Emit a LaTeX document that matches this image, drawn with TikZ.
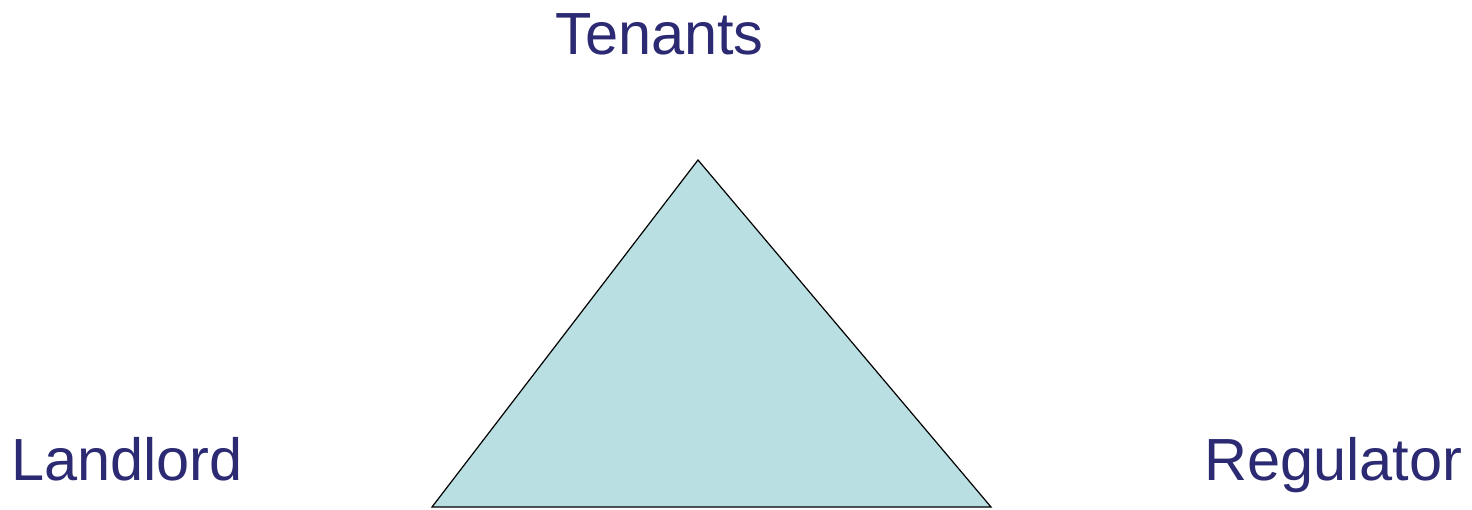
\documentclass[tikz,border=0pt]{standalone}
\usepackage{fontspec}
\setmainfont{Liberation Sans}
\definecolor{navy}{HTML}{2B2A72}
\definecolor{tri}{HTML}{BADFE2}
\begin{document}
\begin{tikzpicture}[x=1pt,y=-1pt,
  lbl/.style={text=navy,font=\fontsize{59.5}{70}\selectfont,inner sep=0pt,anchor=base west}]
\useasboundingbox (0,0) rectangle (1472,509);
\coordinate (A) at (698,160);
\coordinate (B) at (432,507);
\coordinate (C) at (991,507);
\filldraw[fill=tri,draw=black,line width=1.2pt,line join=miter] (A) -- (B) -- (C) -- cycle;
\node[lbl] (ten) at (555,54) {Tenants};
\node[lbl] (land) at (11,480) {Landlord};
\node[lbl] (reg) at (1204,480) {Regulator};
\end{tikzpicture}
\end{document}
